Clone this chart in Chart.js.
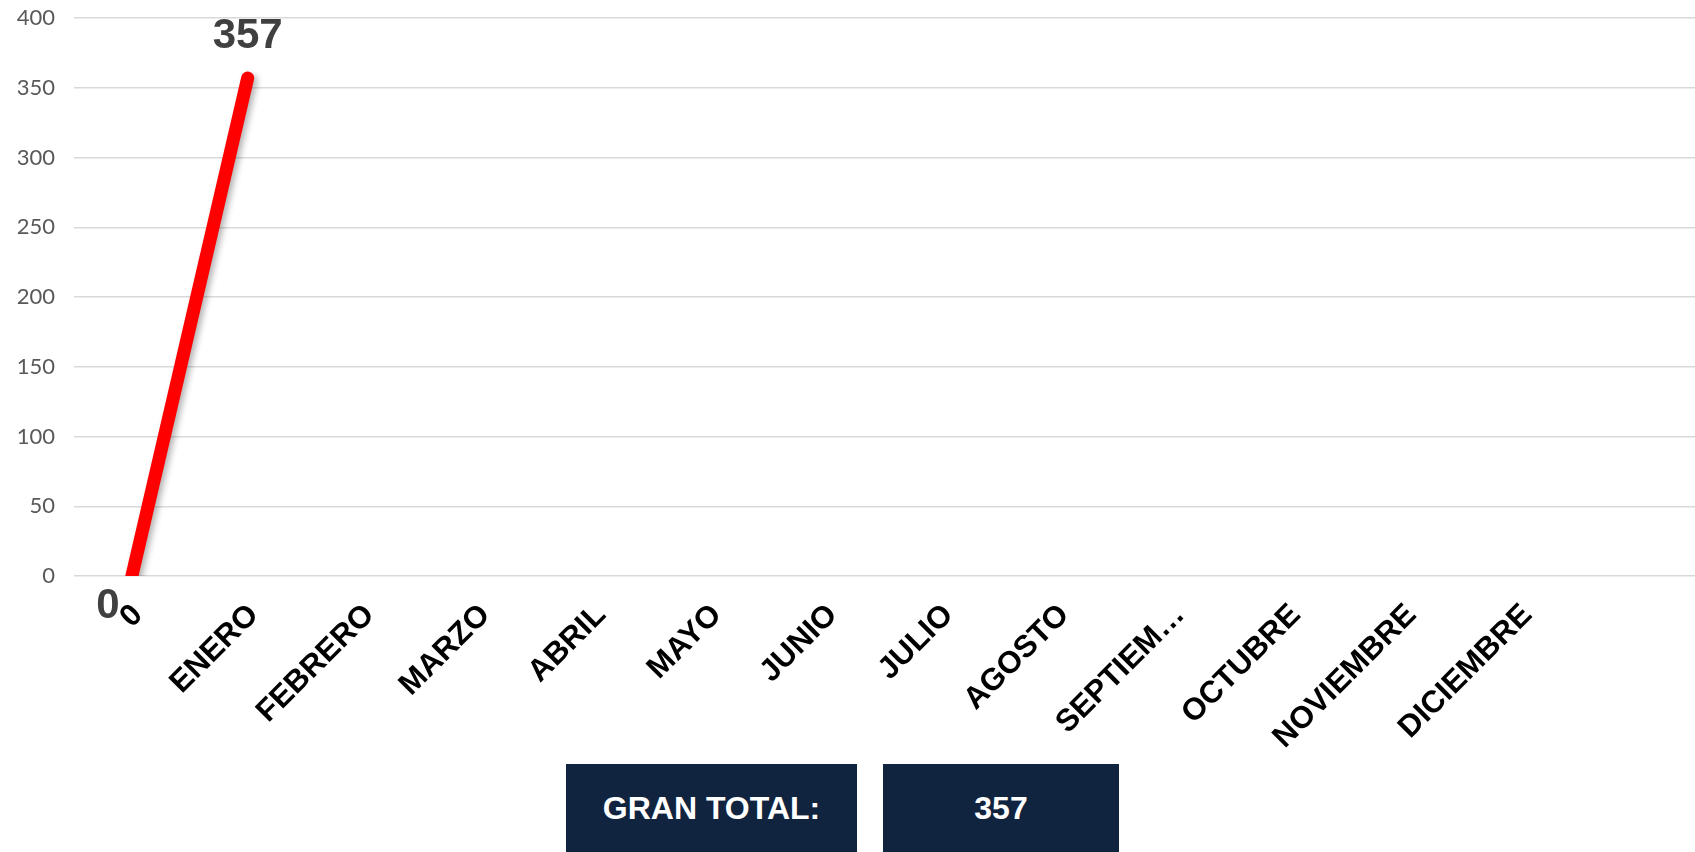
<!DOCTYPE html>
<html>
<head>
<meta charset="utf-8">
<script src="https://cdn.jsdelivr.net/npm/chart.js@4"></script>
<style>
    body { margin: 0; background: #fff; }
    #wrap { position: relative; width: 1695px; height: 852px; overflow: hidden; }
    #chart { position: absolute; left: 0; top: 0; }
    .box {
        position: absolute;
        top: 764px;
        height: 88px;
        background: #11243f;
        color: #fff;
        font: bold 32px "Liberation Sans", Arial, sans-serif;
        display: flex;
        align-items: center;
        justify-content: center;
    }
</style>
</head>
<body>
<div id="wrap">
    <canvas id="chart" width="1695" height="852"></canvas>
    <div class="box" id="totalLabel" style="left:566px;width:291px;">GRAN TOTAL:</div>
    <div class="box" id="totalValue" style="left:883px;width:236px;"></div>
</div>
<script>
const months = ['0', 'ENERO', 'FEBRERO', 'MARZO', 'ABRIL', 'MAYO', 'JUNIO', 'JULIO',
    'AGOSTO', 'SEPTIEM\u2026', 'OCTUBRE', 'NOVIEMBRE', 'DICIEMBRE', ''];
const values = [0, 357, null, null, null, null, null, null, null, null, null, null, null, null];
const yTicks = [0, 50, 100, 150, 200, 250, 300, 350, 400];

const total = values.reduce((sum, v) => sum + (v || 0), 0);
document.getElementById('totalValue').innerText = total;

// line shadow
const shadowPlugin = {
    id: 'shadow',
    beforeDatasetDraw(chart) {
        const ctx = chart.ctx;
        ctx.save();
        ctx.shadowColor = 'rgba(0, 0, 0, 0.3)';
        ctx.shadowBlur = 6;
        ctx.shadowOffsetX = 3;
        ctx.shadowOffsetY = 3;
    },
    afterDatasetDraw(chart) {
        chart.ctx.restore();
    }
};

// value labels on the points
const valueLabels = {
    id: 'valueLabels',
    afterDatasetsDraw(chart) {
        const ctx = chart.ctx;
        const meta = chart.getDatasetMeta(0);
        ctx.save();
        ctx.font = 'bold 42px "Liberation Sans", Arial, sans-serif';
        ctx.fillStyle = '#404040';
        ctx.textAlign = 'center';
        ctx.textBaseline = 'middle';
        meta.data.forEach((pt, i) => {
            const v = values[i];
            if (v === null) return;
            if (i === 0) {
                ctx.fillText(v, pt.x - 24, pt.y + 30);
            } else {
                ctx.fillText(v, pt.x, pt.y - 42);
            }
        });
        ctx.restore();
    }
};

const ctx = document.getElementById('chart').getContext('2d');
new Chart(ctx, {
    type: 'line',
    data: {
        labels: months,
        datasets: [{
            data: values,
            borderColor: '#ff0000',
            borderWidth: 13,
            borderCapStyle: 'round',
            borderJoinStyle: 'round',
            pointRadius: 0,
            fill: false,
            tension: 0,
            spanGaps: false
        }]
    },
    options: {
        responsive: false,
        animation: false,
        layout: { padding: { top: 18, right: 0, left: 0, bottom: 0 } },
        plugins: {
            legend: { display: false },
            tooltip: { enabled: false }
        },
        scales: {
            x: {
                offset: true,
                grid: { display: false },
                border: { display: false },
                ticks: {
                    autoSkip: false,
                    maxRotation: 45,
                    minRotation: 45,
                    padding: 13,
                    labelOffset: 6,
                    color: '#000',
                    font: { family: '"Liberation Sans", Arial, sans-serif', size: 31, weight: 'bold' }
                },
                afterFit(scale) { scale.height = 852 - 576; }
            },
            y: {
                min: 0,
                max: 400,
                afterBuildTicks(scale) { scale.ticks = yTicks.map(v => ({ value: v })); },
                grid: { color: '#d9d9d9', lineWidth: 1.5, drawTicks: false },
                border: { display: false },
                ticks: {
                    padding: 19,
                    color: '#595959',
                    font: { family: 'Lato, sans-serif', size: 22 }
                },
                afterFit(scale) {
                    scale.width = 74;
                    scale.paddingTop = 0;
                    scale.paddingBottom = 0;
                }
            }
        }
    },
    plugins: [shadowPlugin, valueLabels]
});
</script>
</body>
</html>
